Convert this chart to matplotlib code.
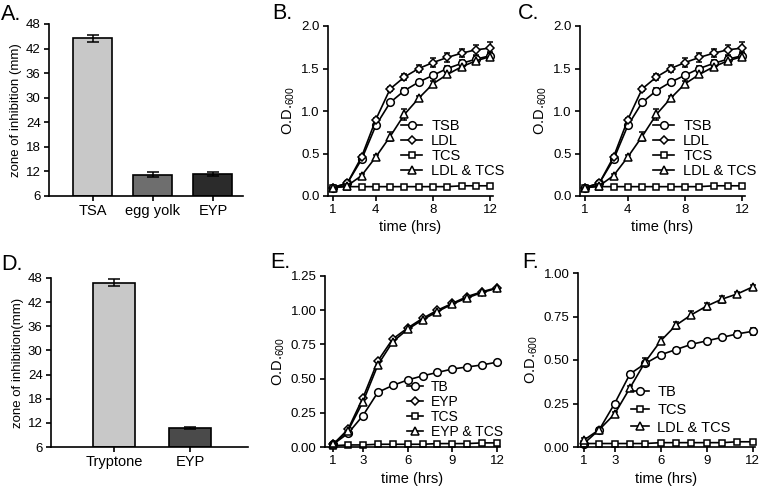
import numpy as np
import matplotlib
matplotlib.use("Agg")
import matplotlib.pyplot as plt
from matplotlib.lines import Line2D

plt.rcParams['font.family'] = ['Liberation Sans', 'DejaVu Sans']
plt.rcParams['font.size'] = 9.5
plt.rcParams['axes.linewidth'] = 1.2
plt.rcParams['xtick.major.width'] = 1.2
plt.rcParams['ytick.major.width'] = 1.2
plt.rcParams['xtick.major.size'] = 3.5
plt.rcParams['ytick.major.size'] = 3.5
plt.rcParams['xtick.major.pad'] = 2.5
plt.rcParams['ytick.major.pad'] = 2.5

# panel A: zone of inhibition
a_labels = ['TSA', 'egg yolk', 'EYP']
a_values = [44.5, 11.2, 11.4]
a_errors = [0.9, 0.6, 0.4]
a_colors = ['#c8c8c8', '#6e6e6e', '#2b2b2b']

# panel D
d_labels = ['Tryptone', 'EYP']
d_values = [46.8, 10.8]
d_errors = [0.9, 0.25]
d_colors = ['#c8c8c8', '#4a4a4a']

# panels B and C (same curves)
hours = np.arange(1, 13)
b_tsb = [0.10, 0.15, 0.43, 0.83, 1.10, 1.24, 1.34, 1.42, 1.50, 1.56, 1.61, 1.65]
b_ldl = [0.10, 0.15, 0.46, 0.90, 1.26, 1.40, 1.50, 1.57, 1.63, 1.68, 1.72, 1.74]
b_tcs = [0.10, 0.11, 0.11, 0.11, 0.11, 0.11, 0.11, 0.11, 0.11, 0.12, 0.12, 0.12]
b_ldl_tcs = [0.10, 0.12, 0.24, 0.46, 0.70, 0.96, 1.15, 1.32, 1.43, 1.52, 1.59, 1.64]
b_tsb_err = [0.01, 0.01, 0.02, 0.02, 0.02, 0.03, 0.03, 0.03, 0.03, 0.04, 0.04, 0.04]
b_ldl_err = [0.01, 0.01, 0.02, 0.02, 0.02, 0.04, 0.04, 0.05, 0.05, 0.05, 0.06, 0.07]
b_tcs_err = [0.005] * 12
b_ldl_tcs_err = [0.01, 0.01, 0.02, 0.02, 0.05, 0.06, 0.03, 0.03, 0.03, 0.03, 0.03, 0.04]

# panel E
e_tb = [0.02, 0.10, 0.23, 0.40, 0.45, 0.49, 0.52, 0.545, 0.57, 0.585, 0.60, 0.62]
e_eyp = [0.02, 0.13, 0.36, 0.63, 0.79, 0.87, 0.94, 1.00, 1.05, 1.10, 1.135, 1.165]
e_tcs = [0.01, 0.015, 0.015, 0.02, 0.02, 0.02, 0.02, 0.025, 0.025, 0.025, 0.03, 0.03]
e_eyp_tcs = [0.02, 0.12, 0.33, 0.60, 0.77, 0.86, 0.93, 0.99, 1.045, 1.09, 1.13, 1.16]

# panel F
f_tb = [0.02, 0.10, 0.25, 0.42, 0.48, 0.53, 0.56, 0.59, 0.61, 0.63, 0.65, 0.665]
f_tcs = [0.02, 0.02, 0.02, 0.02, 0.02, 0.025, 0.025, 0.025, 0.025, 0.025, 0.03, 0.03]
f_ldl_tcs = [0.04, 0.10, 0.19, 0.34, 0.49, 0.61, 0.70, 0.76, 0.81, 0.85, 0.88, 0.92]
f_tb_err = [0.005, 0.01, 0.01, 0.01, 0.01, 0.01, 0.01, 0.01, 0.01, 0.01, 0.015, 0.02]
f_ldl_tcs_err = [0.01, 0.01, 0.01, 0.01, 0.02, 0.02, 0.02, 0.02, 0.02, 0.02, 0.01, 0.01]

W, H = 760, 488


def px_axes(fig, left, top, right, bottom):
    ax = fig.add_axes([left / W, 1 - bottom / H, (right - left) / W, (bottom - top) / H])
    ax.spines['top'].set_visible(False)
    ax.spines['right'].set_visible(False)
    return ax


def bar_panel(ax, labels, values, errors, colors, width, ylabel):
    x = np.arange(len(labels))
    ax.bar(x, np.array(values) - 6, width, bottom=6, color=colors,
           edgecolor='black', linewidth=1.2, zorder=2)
    ax.errorbar(x, values, yerr=errors, fmt='none', ecolor='black',
                elinewidth=1.1, capsize=4, capthick=1.1, zorder=3)
    ax.set_ylim(6, 48)
    ax.set_yticks(range(6, 49, 6))
    ax.set_xticks(x)
    ax.set_xticklabels(labels, fontsize=10.5)
    ax.set_ylabel(ylabel, fontsize=9.5, labelpad=3)


def growth(ax, series, legend_pos, handlelen, spacing, fsize):
    handles = []
    for y, err, marker, ms, label in series:
        ax.errorbar(hours, y, yerr=err, color='black', lw=1.2, marker=marker,
                    ms=ms, mfc='white', mec='black', mew=1.1, capsize=2,
                    elinewidth=1.0, clip_on=False)
        handles.append(Line2D([], [], color='black', lw=1.2, marker=marker,
                              ms=ms, mfc='white', mec='black', mew=1.1))
    ax.set_xlabel('time (hrs)', fontsize=10.5, labelpad=3)
    ax.set_ylabel('O.D.$_{\\mathregular{600}}$', fontsize=10.5, labelpad=3)
    ax.legend(handles, [s[4] for s in series], loc='upper left',
              bbox_to_anchor=legend_pos, frameon=False, borderpad=0,
              borderaxespad=0, handlelength=handlelen, handletextpad=0.6,
              labelspacing=spacing, fontsize=fsize)


fig = plt.figure(figsize=(W / 100, H / 100), dpi=100)

# A
ax = px_axes(fig, 49, 24, 243, 196)
bar_panel(ax, a_labels, a_values, a_errors, a_colors, 0.65, 'zone of inhibition (mm)')
ax.set_xlim(-0.725, 2.5)

# D
ax = px_axes(fig, 51, 278, 248, 447)
bar_panel(ax, d_labels, d_values, d_errors, d_colors, 0.55, 'zone of inhibition(mm)')
ax.set_xlim(-0.83, 1.76)

b_series = [
    (b_tsb, b_tsb_err, 'o', 5.5, 'TSB'),
    (b_ldl, b_ldl_err, 'D', 4, 'LDL'),
    (b_tcs, b_tcs_err, 's', 5, 'TCS'),
    (b_ldl_tcs, b_ldl_tcs_err, '^', 6, 'LDL & TCS'),
]

# B and C
for left, right in [(328, 493), (580, 745)]:
    ax = px_axes(fig, left, 26, right, 196)
    growth(ax, b_series, (0.44, 0.45), 1.5, 0.05, 10.5)
    ax.set_xlim(0.65, 12.2)
    ax.set_ylim(0, 2.0)
    ax.set_xticks([1, 4, 8, 12])
    ax.set_yticks([0, 0.5, 1.0, 1.5, 2.0])

# E
ax = px_axes(fig, 325, 276, 500, 447)
e_series = [
    (e_tb, None, 'o', 5.5, 'TB'),
    (e_eyp, None, 'D', 4, 'EYP'),
    (e_tcs, None, 's', 5, 'TCS'),
    (e_eyp_tcs, None, '^', 6, 'EYP & TCS'),
]
growth(ax, e_series, (0.47, 0.39), 1.1, 0.07, 10)
ax.set_xlim(0.45, 12.2)
ax.set_ylim(0, 1.25)
ax.set_xticks([1, 3, 6, 9, 12])
ax.set_yticks([0, 0.25, 0.5, 0.75, 1.0, 1.25])
ax.yaxis.set_major_formatter(matplotlib.ticker.FormatStrFormatter('%.2f'))

# F
ax = px_axes(fig, 578, 273, 755, 447)
f_series = [
    (f_tb, f_tb_err, 'o', 5.5, 'TB'),
    (f_tcs, None, 's', 5, 'TCS'),
    (f_ldl_tcs, f_ldl_tcs_err, '^', 6, 'LDL & TCS'),
]
growth(ax, f_series, (0.30, 0.355), 1.2, 0.25, 10.5)
ax.set_xlim(0.61, 12.15)
ax.set_ylim(0, 1.0)
ax.set_xticks([1, 3, 6, 9, 12])
ax.set_yticks([0, 0.25, 0.5, 0.75, 1.0])
ax.yaxis.set_major_formatter(matplotlib.ticker.FormatStrFormatter('%.2f'))

# panel letters
for letter, x, y in [('A.', 1, 4), ('B.', 272, 3), ('C.', 518, 3),
                     ('D.', 1, 254), ('E.', 270, 252), ('F.', 522, 252)]:
    fig.text(x / W, 1 - y / H, letter, fontsize=15.5, va='top', ha='left')

fig.savefig('out.png', dpi=100)
